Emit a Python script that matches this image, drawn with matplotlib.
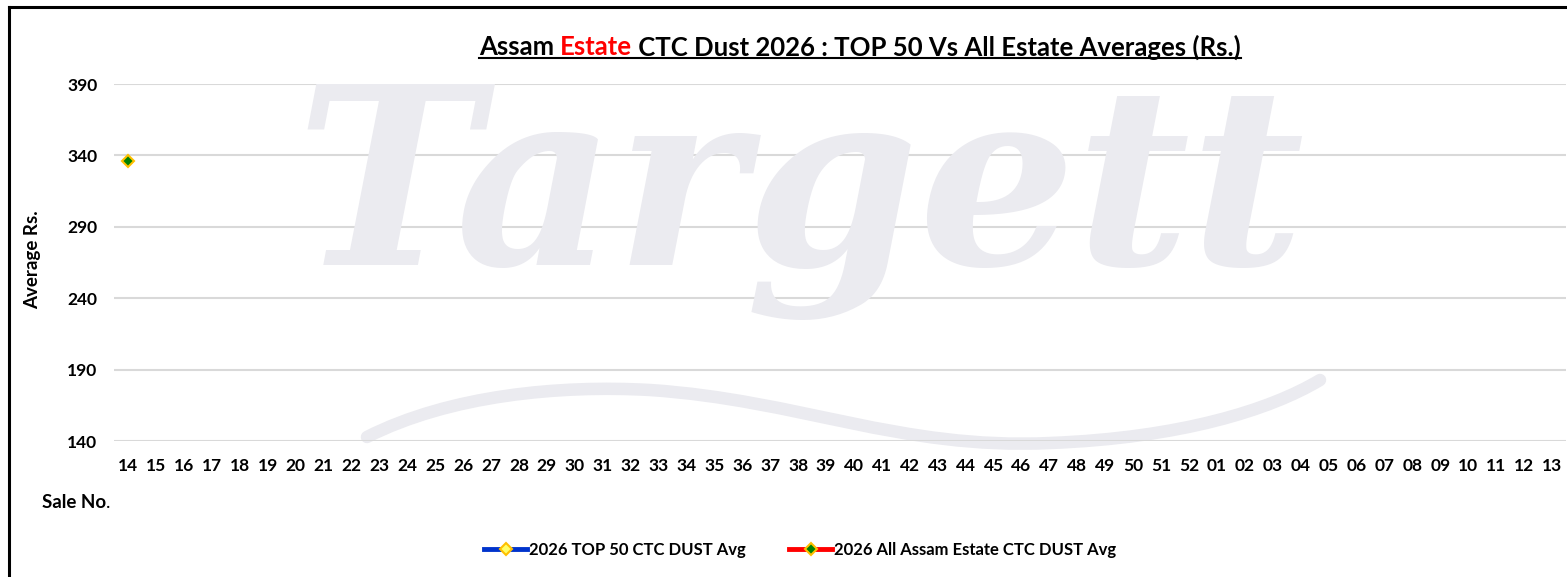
import numpy as np
import matplotlib
matplotlib.use('Agg')
import matplotlib.pyplot as plt
from matplotlib.lines import Line2D
from matplotlib.path import Path
from matplotlib.patches import PathPatch

# sale numbers: 14..52 then 01..13
sales = [str(n) for n in range(14, 53)] + [f"{n:02d}" for n in range(1, 14)]
top50_avg = [np.nan] * len(sales)
all_assam_avg = [336] + [np.nan] * (len(sales) - 1)
yticks = [140, 190, 240, 290, 340, 390]

FONT = 'Lato'
W, H = 1567, 577
WM = '#ebebf0'


def fx(px):
    return px / W


def fy(py):
    return 1 - py / H


fig = plt.figure(figsize=(W / 100, H / 100), dpi=100)
ax = fig.add_axes([fx(114), fy(441), (1566 - 114) / W, (441 - 84) / H])

# watermark
fig.text(fx(800), fy(265), 'Targett', fontsize=178, family='DejaVu Serif',
         weight='bold', style='italic', color=WM, ha='center', va='baseline', zorder=0)
pts = [(367, 437), (450, 395), (560, 385), (650, 390),
       (800, 400), (900, 450), (1050, 443),
       (1180, 438), (1270, 410), (1320, 380)]
codes = [Path.MOVETO] + [Path.CURVE4] * 9
swoosh = Path([(fx(a), fy(b)) for a, b in pts], codes)
fig.add_artist(PathPatch(swoosh, transform=fig.transFigure, fill=False,
                         edgecolor=WM, lw=9, capstyle='round', zorder=0))
ax.patch.set_alpha(0)

x = np.arange(len(sales))
ax.plot(x, top50_avg, color='#0033cc', lw=3.5, marker='D', ms=6,
        mfc='#ffff66', mec='#ffc000', mew=1.5)
ax.plot(x, all_assam_avg, color='#ff0000', lw=3.5, marker='D', ms=6,
        mfc='#008000', mec='#ffc000', mew=1.5)

ax.set_xlim(-0.5, len(sales) - 0.5)
ax.set_ylim(140, 390)
ax.set_xticks(x)
ax.set_xticklabels(sales)
ax.set_yticks(yticks)
ax.grid(axis='y', color='#d9d9d9', lw=1.5)
ax.set_axisbelow(True)
for s in ax.spines.values():
    s.set_visible(False)
ax.tick_params(length=0, labelsize=12.5)
ax.tick_params(axis='x', pad=12)
ax.tick_params(axis='y', pad=12)
for lab in ax.get_xticklabels() + ax.get_yticklabels():
    lab.set_fontfamily(FONT)
    lab.set_fontweight('bold')

fig.text(fx(33), fy(260), 'Average Rs.', rotation=90, ha='center', va='center',
         fontsize=13.5, family=FONT, weight='bold')
t = fig.text(fx(42), fy(502), 'Sale No', ha='left', va='center',
             fontsize=13.5, family=FONT, weight='bold')

# title with red word and underline
fig.canvas.draw()
r = fig.canvas.get_renderer()
bb = t.get_window_extent(r)
fig.text(bb.x1 / W, fy(502), '.', ha='left', va='center', fontsize=13.5, family=FONT)

parts = [('Assam ', 'black'), ('Estate', '#ff0000'),
         (' CTC Dust 2026 : TOP 50 Vs All Estate Averages (Rs.)', 'black')]
texts = []
for s, c in parts:
    texts.append(fig.text(0, fy(47), s, fontsize=18.5, family=FONT, weight='bold',
                          color=c, ha='left', va='center'))
fig.canvas.draw()
widths = [tt.get_window_extent(r).width for tt in texts]
x0 = 860 - sum(widths) / 2
for tt, w in zip(texts, widths):
    tt.set_x(x0 / W)
    x0 += w
b0 = texts[0].get_window_extent(r)
b1 = texts[-1].get_window_extent(r)
uy = (b0.y0 + 1) / H
fig.add_artist(Line2D([b0.x0 / W, b1.x1 / W], [uy, uy], color='black', lw=1.5))

# chart border (left and top)
fig.add_artist(Line2D([fx(8.5), fx(8.5)], [0, fy(6.5)], color='black', lw=2.2))
fig.add_artist(Line2D([fx(8.5), 1], [fy(6.5), fy(6.5)], color='black', lw=2.2))

handles = [
    Line2D([], [], color='#0033cc', lw=3.5, marker='D', ms=6, mfc='#ffff66', mec='#ffc000', mew=1.5),
    Line2D([], [], color='#ff0000', lw=3.5, marker='D', ms=6, mfc='#008000', mec='#ffc000', mew=1.5),
]
leg = fig.legend(handles, ['2026 TOP 50 CTC DUST Avg', '2026 All Assam Estate CTC DUST Avg'],
                 loc='center', bbox_to_anchor=(fx(800), fy(550)), ncol=2, frameon=False,
                 handlelength=2.6, handletextpad=0.1, columnspacing=2.6,
                 prop={'family': FONT, 'weight': 'bold', 'size': 12})

fig.savefig('out.png', dpi=100)
